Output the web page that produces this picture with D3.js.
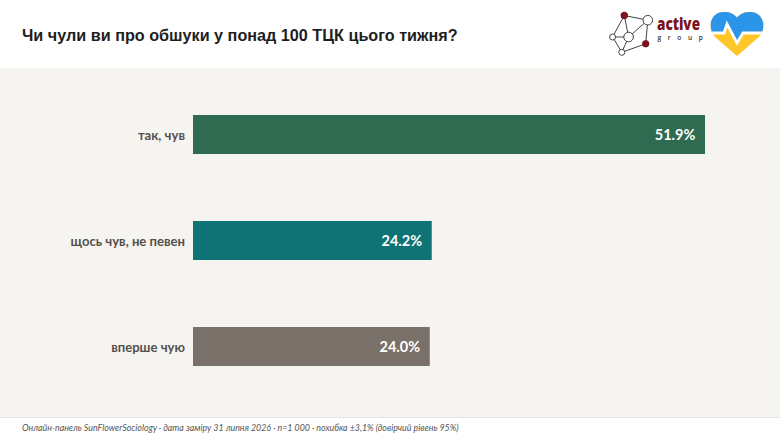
<!DOCTYPE html>
<html>
<head>
<meta charset="utf-8">
<script src="https://cdn.jsdelivr.net/npm/d3@7"></script>
<style>
  html, body { margin: 0; padding: 0; background: #fff; }
  svg { display: block; }
</style>
</head>
<body>
<div id="viz-container"></div>
<script>
// chart values
let categories = ["так, чув", "щось чув, не певен", "вперше чую"];
let values = [51.9, 24.2, 24.0];
let barColors = ["#2f6b50", "#0f7274", "#79706a"];
let title = "Чи чули ви про обшуки у понад 100 ТЦК цього тижня?";
let footnote = "Онлайн-панель SunFlowerSociology · дата заміру 31 липня 2026 · n=1 000 · похибка ±3,1% (довірчий рівень 95%)";

let viz = d3.select("#viz-container")
    .append("svg")
    .attr("width", 780)
    .attr("height", 439);

// background bands
viz.append("rect").attr("width", 780).attr("height", 439).attr("fill", "#ffffff");
viz.append("rect").attr("y", 68).attr("width", 780).attr("height", 349).attr("fill", "#f5f4f0");
viz.append("line").attr("x1", 0).attr("x2", 780).attr("y1", 417.5).attr("y2", 417.5)
    .attr("stroke", "#e6e5e1");

viz.append("text")
    .text(title)
    .attr("x", 22).attr("y", 40.5)
    .attr("font-family", "'Liberation Sans'")
    .attr("font-weight", 700)
    .attr("font-size", 16.2)
    .attr("fill", "#1e1e1e");

viz.append("text")
    .text(footnote)
    .attr("x", 22).attr("y", 431)
    .attr("font-family", "Lato")
    .attr("font-style", "italic")
    .attr("font-size", 8.85)
    .attr("fill", "#555555");

// scales
let xScale = d3.scaleLinear().domain([0, 51.9]).range([193, 705]);
let yScale = d3.scaleBand().domain(categories).range([115, 366]).paddingInner(0.632);

let rows = viz.selectAll(".row").data(categories).enter().append("g").attr("class", "row");

rows.append("rect")
    .attr("x", xScale(0))
    .attr("y", d => yScale(d))
    .attr("width", (d, i) => xScale(values[i]) - xScale(0))
    .attr("height", yScale.bandwidth())
    .attr("fill", (d, i) => barColors[i]);

rows.append("text")
    .text(d => d)
    .attr("x", xScale(0) - 8)
    .attr("y", d => yScale(d) + yScale.bandwidth() / 2 + 0.5)
    .attr("dy", "0.35em")
    .attr("text-anchor", "end")
    .attr("font-family", "Lato")
    .attr("font-weight", 700)
    .attr("font-size", 13.1)
    .attr("fill", "#55504c");

rows.append("text")
    .text((d, i) => values[i].toFixed(1) + "%")
    .attr("x", (d, i) => xScale(values[i]) - 9.7)
    .attr("y", d => yScale(d) + yScale.bandwidth() / 2 + 0.5)
    .attr("dy", "0.35em")
    .attr("text-anchor", "end")
    .attr("font-family", "Lato")
    .attr("font-weight", 700)
    .attr("font-size", 14.5)
    .attr("fill", "#ffffff");

// active group logo
let logo = viz.append("g");
let nodes = [
    [624.3, 15.5, 3.3, "#7b1420"], [647.8, 20.2, 4.8, "#ffffff"], [612.6, 37, 3, "#ffffff"],
    [628.6, 37, 4.8, "#ffffff"], [645.7, 43.8, 3.2, "#7b1420"], [621.8, 52.3, 3, "#ffffff"]
];
let links = [[0, 1], [0, 2], [0, 3], [1, 3], [1, 4], [2, 3], [2, 5], [3, 5], [4, 5]];
logo.selectAll("line").data(links).enter().append("line")
    .attr("x1", d => nodes[d[0]][0]).attr("y1", d => nodes[d[0]][1])
    .attr("x2", d => nodes[d[1]][0]).attr("y2", d => nodes[d[1]][1])
    .attr("stroke", "#444444").attr("stroke-width", 1);
logo.selectAll("circle").data(nodes).enter().append("circle")
    .attr("cx", d => d[0]).attr("cy", d => d[1]).attr("r", d => d[2])
    .attr("fill", d => d[3])
    .attr("stroke", d => d[3] == "#ffffff" ? "#444444" : d[3])
    .attr("stroke-width", 1);
logo.append("text").text("active")
    .attr("x", 657).attr("y", 29.5)
    .attr("font-family", "'Open Sans'").attr("font-weight", 800)
    .attr("font-size", 17)
    .attr("textLength", 43).attr("lengthAdjust", "spacingAndGlyphs")
    .attr("fill", "#7b1420");
logo.append("text").text("group")
    .attr("x", 657.5).attr("y", 40)
    .attr("font-family", "'Open Sans'")
    .attr("font-weight", 600)
    .attr("font-size", 6.5).attr("letter-spacing", "6.7px").attr("fill", "#333333");

// heart
let heart = viz.append("g");
let heartPath = "M737 56 L715 37 C707 28 710 12 724 12 C730 12 734 14 737 17.5 C740 14 744 12 750 12 C764 12 767 28 759 37 Z";
let defs = viz.append("defs");
defs.append("clipPath").attr("id", "heartClip").append("path").attr("d", heartPath);
let clipped = heart.append("g").attr("clip-path", "url(#heartClip)");
clipped.append("rect").attr("x", 705).attr("y", 8).attr("width", 65).attr("height", 52).attr("fill", "#ffc629");
clipped.append("path")
    .attr("d", "M705 8 H770 V33 H743 L737 43 L727 24 L724 33 H705 Z")
    .attr("fill", "#2b95e9");
clipped.append("path")
    .attr("d", "M705 33 H724 L727 24 L737 43 L743 33 H770")
    .attr("fill", "none").attr("stroke", "#ffffff").attr("stroke-width", 2.8);
</script>
</body>
</html>
